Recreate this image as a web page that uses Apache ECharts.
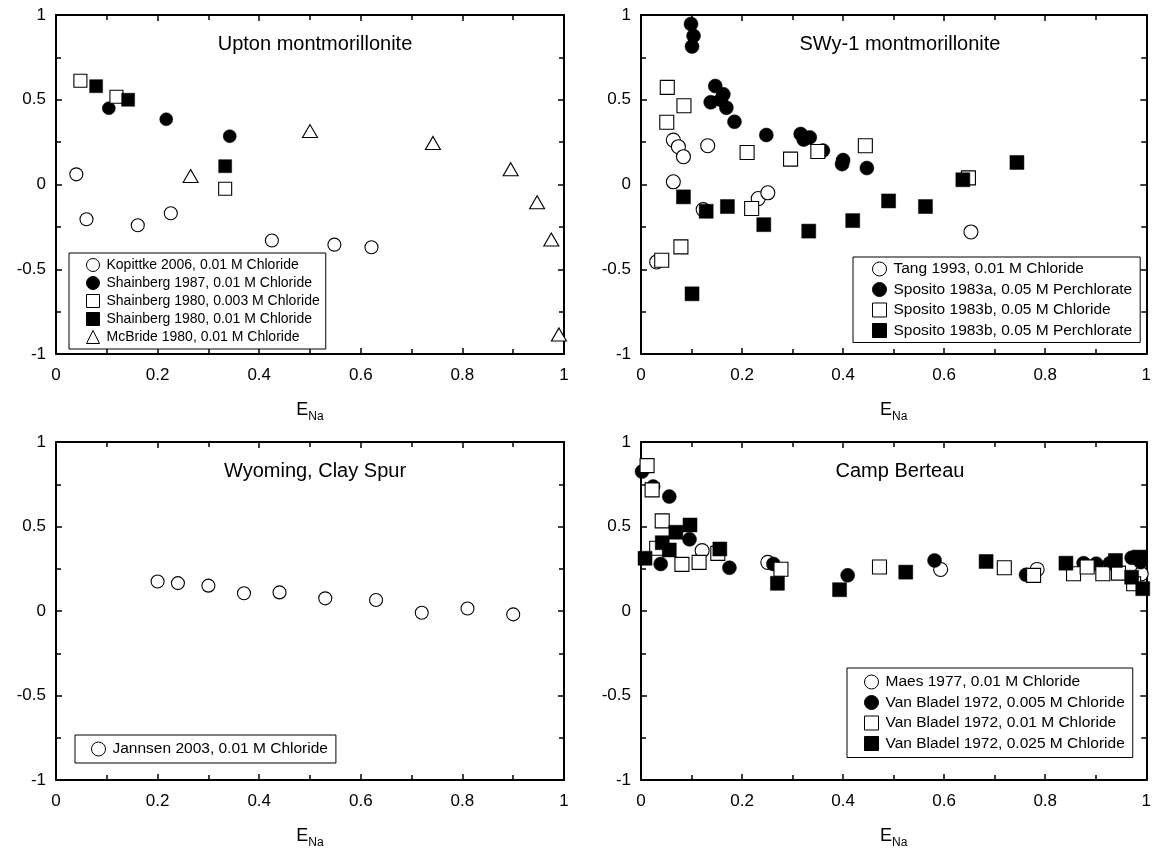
<!DOCTYPE html>
<html>
<head>
<meta charset="utf-8">
<script src="https://cdn.jsdelivr.net/npm/echarts@6/dist/echarts.min.js"></script>
<style>
html,body{margin:0;padding:0;background:#fff;}
#chart{width:1154px;height:856px;}
</style>
</head>
<body>
<div id="chart"></div>
<script>
// ---- Panel titles ----
const panelTitles = ['Upton montmorillonite', 'SWy-1 montmorillonite', 'Wyoming, Clay Spur', 'Camp Berteau'];
const xTicks = [0, 0.2, 0.4, 0.6, 0.8, 1];
const yTicks = [-1, -0.5, 0, 0.5, 1];

// ---- Upton montmorillonite ----
const kopittke2006 = [[0.04,0.06],[0.06,-0.205],[0.161,-0.24],[0.226,-0.17],[0.425,-0.33],[0.548,-0.355],[0.621,-0.37]];
const shainberg1987 = [[0.104,0.45],[0.217,0.385],[0.342,0.285]];
const shainberg1980a = [[0.048,0.612],[0.119,0.518],[0.333,-0.025]];
const shainberg1980b = [[0.079,0.58],[0.142,0.5],[0.333,0.108]];
const mcbride1980 = [[0.265,0.05],[0.5,0.315],[0.742,0.245],[0.895,0.09],[0.947,-0.105],[0.975,-0.325],[0.99,-0.885]];

// ---- SWy-1 montmorillonite ----
const tang1993 = [[0.031,-0.457],[0.064,0.262],[0.074,0.223],[0.084,0.164],[0.064,0.016],[0.132,0.229],[0.123,-0.148],[0.232,-0.083],[0.251,-0.049],[0.653,-0.28]];
const sposito1983a = [[0.099,0.947],[0.104,0.877],[0.101,0.814],[0.147,0.581],[0.163,0.532],[0.138,0.485],[0.158,0.5],[0.169,0.453],[0.185,0.37],[0.248,0.292],[0.316,0.298],[0.322,0.265],[0.334,0.278],[0.36,0.2],[0.4,0.144],[0.398,0.12],[0.447,0.097]];
const sposito1983bCl = [[0.052,0.573],[0.085,0.465],[0.051,0.367],[0.21,0.189],[0.296,0.15],[0.35,0.195],[0.444,0.229],[0.219,-0.142],[0.079,-0.368],[0.041,-0.447],[0.648,0.039]];
const sposito1983bClO4 = [[0.084,-0.073],[0.129,-0.158],[0.171,-0.13],[0.243,-0.237],[0.332,-0.275],[0.419,-0.213],[0.49,-0.097],[0.563,-0.13],[0.637,0.028],[0.744,0.13],[0.101,-0.645]];

// ---- Wyoming, Clay Spur ----
const jannsen2003 = [[0.2,0.175],[0.24,0.165],[0.3,0.15],[0.37,0.105],[0.44,0.11],[0.53,0.075],[0.63,0.065],[0.72,-0.01],[0.81,0.015],[0.9,-0.02]];

// ---- Camp Berteau ----
const maes1977 = [[0.121,0.357],[0.251,0.288],[0.593,0.246],[0.784,0.246],[0.99,0.22]];
const vanBladel005 = [[0.002,0.825],[0.024,0.736],[0.056,0.677],[0.039,0.278],[0.096,0.424],[0.175,0.256],[0.262,0.278],[0.409,0.211],[0.581,0.299],[0.762,0.214],[0.876,0.283],[0.901,0.28],[0.928,0.283],[0.971,0.315],[0.989,0.289]];
const vanBladel01 = [[0.012,0.86],[0.022,0.717],[0.042,0.533],[0.031,0.371],[0.081,0.276],[0.115,0.288],[0.152,0.341],[0.277,0.247],[0.472,0.26],[0.719,0.256],[0.777,0.211],[0.856,0.22],[0.883,0.26],[0.914,0.22],[0.945,0.224],[0.975,0.161]];
const vanBladel025 = [[0.008,0.312],[0.042,0.404],[0.056,0.361],[0.069,0.466],[0.097,0.509],[0.156,0.367],[0.27,0.164],[0.393,0.126],[0.524,0.23],[0.683,0.293],[0.841,0.283],[0.939,0.299],[0.986,0.319],[0.971,0.2],[0.993,0.132]];

// ---- Layout ----
const FONT = '"Liberation Sans", Arial, Helvetica, sans-serif';
const grids = [
  {left: 56, top: 15, width: 508, height: 339},
  {left: 641, top: 15, width: 508, height: 339},
  {left: 56, top: 442, width: 508, height: 338},
  {left: 641, top: 442, width: 508, height: 338}
];
const markerSize = [13, 14, 13, 14];

const STYLES = {
  openCircle: {symbol: 'circle', itemStyle: {color: '#fff', borderColor: '#000', borderWidth: 1.1, opacity: 1}},
  fillCircle: {symbol: 'circle', itemStyle: {color: '#000', borderColor: '#000', borderWidth: 0.5, opacity: 1}},
  openSquare: {symbol: 'rect', itemStyle: {color: '#fff', borderColor: '#000', borderWidth: 1.1, opacity: 1}},
  fillSquare: {symbol: 'rect', itemStyle: {color: '#000', borderColor: '#000', borderWidth: 0.5, opacity: 1}},
  openTri: {symbol: 'triangle', itemStyle: {color: '#fff', borderColor: '#000', borderWidth: 1.1, opacity: 1}}
};

const seriesDefs = [
  [0, 'Kopittke 2006, 0.01 M Chloride', kopittke2006, 'openCircle'],
  [0, 'Shainberg 1987, 0.01 M Chloride', shainberg1987, 'fillCircle'],
  [0, 'Shainberg 1980, 0.003 M Chloride', shainberg1980a, 'openSquare'],
  [0, 'Shainberg 1980, 0.01 M Chloride', shainberg1980b, 'fillSquare'],
  [0, 'McBride 1980, 0.01 M Chloride', mcbride1980, 'openTri'],
  [1, 'Tang 1993, 0.01 M Chloride', tang1993, 'openCircle'],
  [1, 'Sposito 1983a, 0.05 M Perchlorate', sposito1983a, 'fillCircle'],
  [1, 'Sposito 1983b, 0.05 M Chloride', sposito1983bCl, 'openSquare'],
  [1, 'Sposito 1983b, 0.05 M Perchlorate', sposito1983bClO4, 'fillSquare'],
  [2, 'Jannsen 2003, 0.01 M Chloride', jannsen2003, 'openCircle'],
  [3, 'Maes 1977, 0.01 M Chloride', maes1977, 'openCircle'],
  [3, 'Van Bladel 1972, 0.005 M Chloride', vanBladel005, 'fillCircle'],
  [3, 'Van Bladel 1972, 0.01 M Chloride', vanBladel01, 'openSquare'],
  [3, 'Van Bladel 1972, 0.025 M Chloride', vanBladel025, 'fillSquare']
];

const legendCfg = [
  {left: 69, top: 253, font: 14, icon: 13, gap: 4, pad: [5, 6, 5, 17]},
  {left: 853, top: 257, font: 15.5, icon: 14, gap: 4.5, pad: [4, 8, 4, 19]},
  {left: 75, top: 735, font: 15.5, icon: 14, gap: 4, pad: [6, 8, 6, 16]},
  {left: 847, top: 668, font: 15.5, icon: 14, gap: 4.5, pad: [6, 8, 6, 17]}
];

const axisLineStyle = {color: '#000', width: 2};
const tickStyle = {color: '#000', width: 1.5};

const xAxes = [], yAxes = [];
grids.forEach((g, i) => {
  const common = {
    type: 'value', gridIndex: i, min: xTicks[0], max: xTicks[xTicks.length - 1], interval: xTicks[1] - xTicks[0],
    axisLine: {show: true, onZero: false, lineStyle: axisLineStyle},
    axisTick: {show: true, inside: true, length: 6, lineStyle: tickStyle},
    minorTick: {show: true, splitNumber: 2, length: 5, lineStyle: tickStyle},
    splitLine: {show: false}, minorSplitLine: {show: false}
  };
  xAxes.push(Object.assign({}, common, {
    position: 'bottom',
    axisLabel: {color: '#000', fontSize: 17, fontFamily: FONT, margin: 13},
    name: '{e|E}{s|Na}', nameLocation: 'middle', nameGap: 47,
    nameTextStyle: {rich: {
      e: {fontSize: 18, fontFamily: FONT, color: '#000', verticalAlign: 'top', lineHeight: 22},
      s: {fontSize: 12, fontFamily: FONT, color: '#000', verticalAlign: 'top', lineHeight: 22, padding: [10, 0, 0, 0]}
    }}
  }));
  xAxes.push(Object.assign({}, common, {position: 'top', axisLabel: {show: false}}));
  const ycommon = {
    type: 'value', gridIndex: i, min: yTicks[0], max: yTicks[yTicks.length - 1], interval: yTicks[1] - yTicks[0],
    axisLine: {show: true, onZero: false, lineStyle: axisLineStyle},
    axisTick: {show: true, inside: true, length: 6, lineStyle: tickStyle},
    minorTick: {show: true, splitNumber: 2, length: 5, lineStyle: tickStyle},
    splitLine: {show: false}, minorSplitLine: {show: false}
  };
  yAxes.push(Object.assign({}, ycommon, {
    position: 'left',
    axisLabel: {color: '#000', fontSize: 17, fontFamily: FONT, margin: 10}
  }));
  yAxes.push(Object.assign({}, ycommon, {position: 'right', axisLabel: {show: false}}));
});

const series = seriesDefs.map(([gi, name, data, st]) => {
  const sz = markerSize[gi];
  return Object.assign({
    type: 'scatter', name: name, data: data,
    xAxisIndex: gi * 2, yAxisIndex: gi * 2,
    symbolSize: st === 'openTri' ? [sz + 2, sz] : sz,
    clip: false,
    emphasis: {disabled: true}
  }, JSON.parse(JSON.stringify(STYLES[st])));
});

const legends = grids.map((g, i) => {
  const c = legendCfg[i];
  return {
    orient: 'vertical',
    left: c.left, top: c.top,
    data: seriesDefs.filter(d => d[0] === i).map(d => d[1]),
    itemWidth: c.icon, itemHeight: c.icon, itemGap: c.gap,
    itemStyle: {borderWidth: 1},
    textStyle: {fontSize: c.font, fontFamily: FONT, color: '#000', lineHeight: c.icon, padding: [0, 0, 0, 2]},
    borderColor: '#000', borderWidth: 1, borderRadius: 0,
    backgroundColor: '#fff',
    padding: c.pad,
    selectedMode: false
  };
});

const titles = panelTitles.map((t, i) => ({
  text: t,
  left: grids[i].left + grids[i].width / 2,
  top: grids[i].top + 14,
  textAlign: 'center',
  textStyle: {fontSize: 20, fontWeight: 'normal', fontFamily: FONT, color: '#000'}
}));

const chart = echarts.init(document.getElementById('chart'), null, {renderer: 'canvas'});
chart.setOption({
  animation: false,
  backgroundColor: '#fff',
  title: titles,
  grid: grids,
  xAxis: xAxes,
  yAxis: yAxes,
  legend: legends,
  series: series
});
</script>
</body>
</html>
